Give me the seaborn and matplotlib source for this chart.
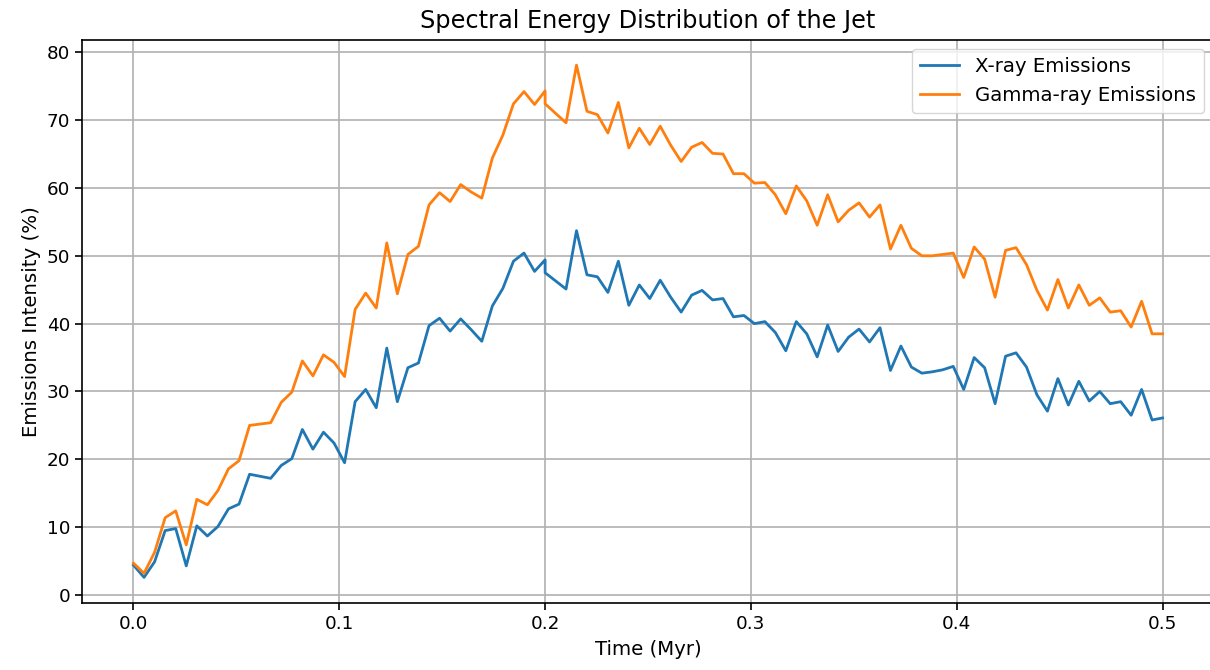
import numpy as np
import pandas as pd
import matplotlib
matplotlib.use("Agg")
import matplotlib.pyplot as plt
import seaborn as sns

# Time axis: rise phase (0-0.2 Myr) and decay phase (0.2-0.5 Myr)
time_rise = np.linspace(0, 0.2, 40)
time_decay = np.linspace(0.2, 0.5, 60)

xray_rise = [4.4, 2.6, 4.9, 9.5, 9.8, 4.3, 10.2, 8.7, 10.1, 12.7,
             13.4, 17.8, 17.5, 17.2, 19.1, 20.1, 24.4, 21.5, 24.0, 22.4,
             19.5, 28.5, 30.3, 27.6, 36.4, 28.5, 33.5, 34.2, 39.7, 40.8,
             38.9, 40.7, 39.1, 37.4, 42.6, 45.2, 49.2, 50.4, 47.7, 49.4]
gamma_rise = [4.7, 3.2, 6.3, 11.4, 12.4, 7.4, 14.1, 13.3, 15.4, 18.6,
              19.8, 25.0, 25.2, 25.4, 28.4, 29.9, 34.5, 32.3, 35.4, 34.3,
              32.2, 42.1, 44.5, 42.3, 51.9, 44.4, 50.2, 51.4, 57.5, 59.3,
              58.0, 60.5, 59.4, 58.5, 64.4, 67.8, 72.4, 74.2, 72.3, 74.3]

xray_decay = [47.5, 46.3, 45.1, 53.7, 47.2, 46.9, 44.6, 49.2, 42.7, 45.7,
              43.7, 46.4, 43.9, 41.7, 44.2, 44.9, 43.5, 43.7, 41.0, 41.2,
              40.0, 40.3, 38.7, 36.0, 40.3, 38.5, 35.1, 39.8, 35.9, 38.0,
              39.2, 37.3, 39.4, 33.1, 36.7, 33.6, 32.7, 32.9, 33.2, 33.7,
              30.3, 35.0, 33.5, 28.2, 35.2, 35.7, 33.6, 29.5, 27.1, 31.9,
              28.0, 31.5, 28.6, 30.0, 28.2, 28.5, 26.5, 30.3, 25.8, 26.1]
gamma_decay = [72.4, 71.0, 69.6, 78.1, 71.3, 70.8, 68.1, 72.6, 65.9, 68.8,
               66.4, 69.1, 66.3, 63.9, 66.0, 66.7, 65.1, 65.0, 62.1, 62.1,
               60.7, 60.8, 59.0, 56.2, 60.3, 58.1, 54.5, 59.0, 55.0, 56.7,
               57.8, 55.7, 57.5, 51.0, 54.5, 51.1, 50.0, 50.0, 50.2, 50.4,
               46.8, 51.3, 49.5, 43.9, 50.8, 51.2, 48.7, 44.9, 42.0, 46.5,
               42.3, 45.7, 42.7, 43.8, 41.7, 41.9, 39.5, 43.3, 38.5, 38.5]

series_names = ["X-ray Emissions", "Gamma-ray Emissions"]
colors = ["#1f77b4", "#ff7f0e"]

time = np.concatenate([time_rise, time_decay])
xray = np.concatenate([xray_rise, xray_decay])
gamma = np.concatenate([gamma_rise, gamma_decay])

df = pd.DataFrame({
    "Time": np.concatenate([time, time]),
    "Intensity": np.concatenate([xray, gamma]),
    "Series": [series_names[0]] * len(time) + [series_names[1]] * len(time),
})

fig = plt.figure(figsize=(12.1, 6.7), dpi=100)
ax = fig.add_axes([0.0678, 0.100, 0.9355, 0.841])

sns.lineplot(data=df, x="Time", y="Intensity", hue="Series",
             palette=dict(zip(series_names, colors)),
             estimator=None, sort=False, linewidth=2.0, ax=ax)

ax.set_title("Spectral Energy Distribution of the Jet", fontsize=17.3, pad=8)
ax.set_xlabel("Time (Myr)", fontsize=14.2, labelpad=5)
ax.set_ylabel("Emissions Intensity (%)", fontsize=14.2, labelpad=4)
ax.tick_params(labelsize=13.2, width=1.2, length=5)
for s in ax.spines.values():
    s.set_linewidth(1.2)
ax.grid(True, color="#b0b0b0", linewidth=1.2)
ax.set_axisbelow(True)
leg = ax.legend(loc="upper right", fontsize=14.2, title=None)

fig.savefig("out.png", dpi=100)
